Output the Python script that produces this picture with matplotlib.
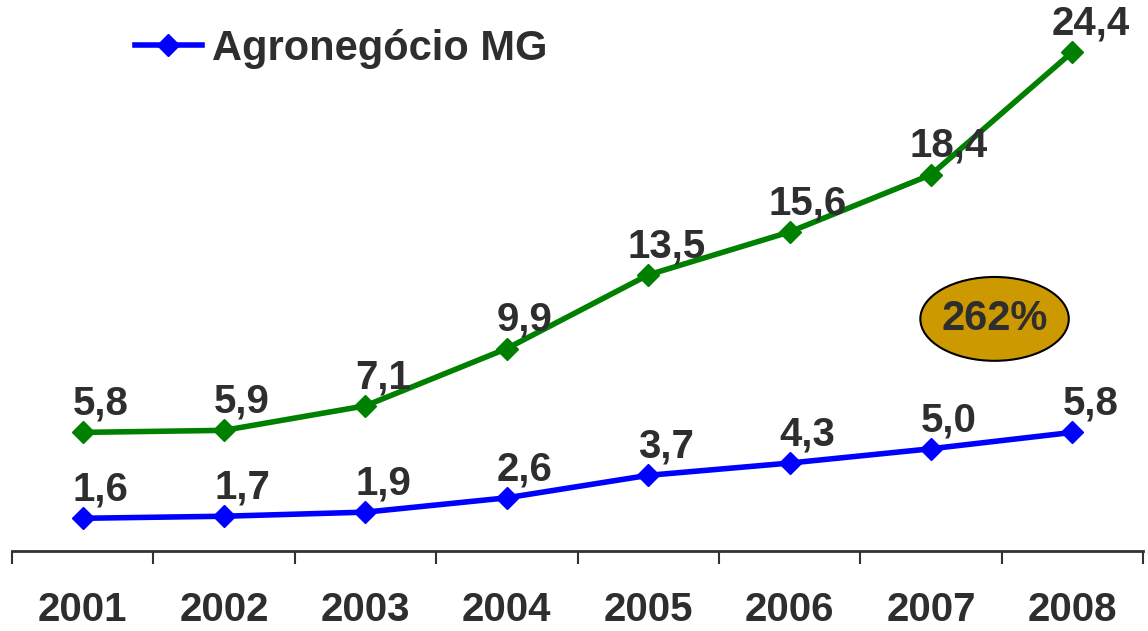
import numpy as np
import matplotlib.pyplot as plt
from matplotlib.patches import Ellipse
from matplotlib.lines import Line2D

plt.rcParams['font.family'] = ['Liberation Sans', 'DejaVu Sans']

years = ['2001', '2002', '2003', '2004', '2005', '2006', '2007', '2008']
total = [5.8, 5.9, 7.1, 9.9, 13.5, 15.6, 18.4, 24.4]
agro_mg = [1.6, 1.7, 1.9, 2.6, 3.7, 4.3, 5.0, 5.8]
growth_label = '262%'

txt_color = '#2e2e2e'
x = np.arange(len(years))

fig = plt.figure(figsize=(11.48, 6.31), dpi=100)
ax = fig.add_axes([12 / 1148, 1 - 551 / 631, 1131 / 1148, 551 / 631])

ax.plot(x, total, color='#008000', lw=4, marker='D', ms=11, zorder=3)
ax.plot(x, agro_mg, color='#0000ff', lw=4, marker='D', ms=11, zorder=3)

for xi, v in zip(x, total):
    ax.annotate(f'{v:.1f}'.replace('.', ','), (xi, v), xytext=(13, 7),
                textcoords='offset points', ha='center', va='bottom',
                fontsize=29, fontweight='bold', color=txt_color)
for xi, v in zip(x, agro_mg):
    ax.annotate(f'{v:.1f}'.replace('.', ','), (xi, v), xytext=(13, 7),
                textcoords='offset points', ha='center', va='bottom',
                fontsize=29, fontweight='bold', color=txt_color)

# growth bubble
ax.add_patch(Ellipse((6.45, 11.35), 1.05, 4.1, facecolor='#cc9900',
                     edgecolor='black', lw=1.5, zorder=4))
ax.text(6.45, 11.35, growth_label, ha='center', va='center', fontsize=30,
        fontweight='bold', color=txt_color, zorder=5)

ax.set_xlim(-0.5, 7.5)
ax.set_ylim(0, 551 / 20.45)

for s in ['top', 'right', 'left']:
    ax.spines[s].set_visible(False)
ax.spines['bottom'].set_color('#333333')
ax.spines['bottom'].set_linewidth(2)
ax.set_yticks([])

ax.set_xticks(np.arange(-0.5, 8, 1))
ax.set_xticklabels([])
ax.tick_params(axis='x', which='major', direction='out', length=9,
               width=1.5, color='#333333')
ax.set_xticks(x, minor=True)
ax.set_xticklabels(years, minor=True)
ax.tick_params(axis='x', which='minor', length=0, pad=29, labelsize=29,
               labelcolor=txt_color)
for lb in ax.get_xticklabels(minor=True):
    lb.set_fontweight('bold')

handle = Line2D([], [], color='#0000ff', lw=4, marker='D', ms=11)
leg = fig.legend([handle], ['Agronegócio MG'], loc='center left',
                 bbox_to_anchor=(135 / 1148, 1 - 49 / 631), frameon=False,
                 borderpad=0, borderaxespad=0, handlelength=1.6,
                 handletextpad=0.25, prop={'size': 30, 'weight': 'bold'})
for t in leg.get_texts():
    t.set_color(txt_color)

fig.savefig('out.png', dpi=100)
